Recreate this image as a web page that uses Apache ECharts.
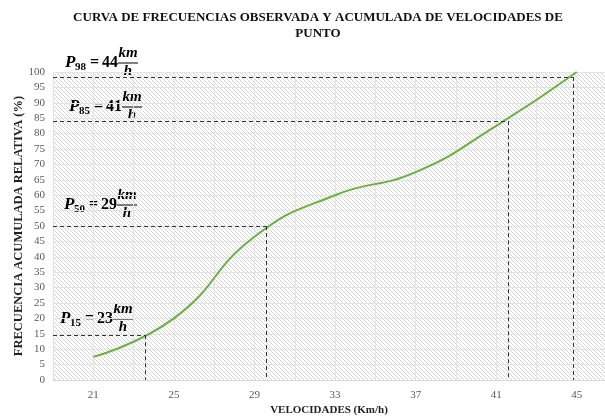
<!DOCTYPE html>
<html>
<head>
<meta charset="utf-8">
<script src="https://cdn.jsdelivr.net/npm/echarts@6/dist/echarts.min.js"></script>
<style>
  html, body { margin: 0; padding: 0; background: #fff; }
  #main { width: 605px; height: 419px; }
</style>
</head>
<body>
<div id="main"></div>
<script>
// curva acumulada (velocidad km/h, % acumulado)
const velocidades = [21, 25, 29, 33, 37, 41, 45];
const acumulado = [7.5, 20, 46.5, 60, 67.5, 82.5, 100];

// percentiles
const percentiles = ["15", "50", "85", "98"];
const pValor = [23, 29, 41, 44];
const pX = [23.6, 29.6, 41.6, 44.8];
const pY = [14.5, 50, 84, 98.4];

const SERIF = '"Liberation Serif", "Times New Roman", serif';

// fondo rayado del area de trazado
function hatch() {
  const c = document.createElement("canvas");
  c.width = 4;
  c.height = 4;
  const ctx = c.getContext("2d");
  ctx.fillStyle = "#ffffff";
  ctx.fillRect(0, 0, 4, 4);
  ctx.strokeStyle = "#d6d6d6";
  ctx.lineWidth = 1;
  ctx.beginPath();
  ctx.moveTo(-1, -1);
  ctx.lineTo(5, 5);
  ctx.moveTo(3, -1);
  ctx.lineTo(5, 1);
  ctx.moveTo(-1, 3);
  ctx.lineTo(1, 5);
  ctx.stroke();
  return c;
}

// etiqueta P_xx = nn km/h
function pLabel(sub, val, x, y) {
  const bold = "bold 16px " + SERIF;
  const boldIt = "italic bold 17px " + SERIF;
  const frac = "italic bold 15px " + SERIF;
  const fx = 63;
  return {
    type: "group",
    x: x,
    y: y,
    children: [
      { type: "text", x: 0, y: 0, style: { text: "P", font: boldIt, fill: "#000", verticalAlign: "middle" } },
      { type: "text", x: 10, y: 4, style: { text: sub, font: "bold 11px " + SERIF, fill: "#000", verticalAlign: "middle" } },
      { type: "text", x: 25, y: 0, style: { text: "=", font: bold, fill: "#000", verticalAlign: "middle" } },
      { type: "text", x: 37, y: 0, style: { text: String(val), font: bold, fill: "#000", verticalAlign: "middle" } },
      { type: "text", x: fx, y: -10, style: { text: "km", font: frac, fill: "#000", align: "center", verticalAlign: "middle" } },
      { type: "line", shape: { x1: fx - 10, y1: 0, x2: fx + 10, y2: 0 }, style: { stroke: "#000", lineWidth: 1 } },
      { type: "text", x: fx, y: 8, style: { text: "h", font: frac, fill: "#000", align: "center", verticalAlign: "middle" } }
    ]
  };
}

const labelPos = [
  [60, 319],
  [64, 205],
  [69, 107],
  [65, 63]
];

const refLines = [];
pX.forEach(function (x, i) {
  refLines.push([{ coord: [19, pY[i]] }, { coord: [x, pY[i]] }]);
  refLines.push([{ coord: [x, pY[i]] }, { coord: [x, 0] }]);
});

const myChart = echarts.init(document.getElementById("main"));

const option = {
  animation: false,
  grid: {
    left: 53,
    right: 0,
    top: 72,
    bottom: 39,
    outerBoundsMode: "none",
    containLabel: false,
    show: true,
    borderWidth: 0,
    backgroundColor: { image: hatch(), repeat: "repeat" }
  },
  xAxis: {
    type: "value",
    min: 19,
    max: 46.4,
    interval: 2,
    name: "VELOCIDADES (Km/h)",
    nameLocation: "middle",
    nameGap: 25,
    nameMoveOverlap: false,
    nameTextStyle: { fontFamily: SERIF, fontWeight: "bold", fontSize: 11, color: "#222" },
    axisLine: { show: true, lineStyle: { color: "#d9d9d9" } },
    axisTick: { show: false },
    axisLabel: {
      fontFamily: SERIF,
      fontSize: 11,
      color: "#595959",
      margin: 10,
      formatter: function (v) {
        return (v - 21) % 4 === 0 ? String(v) : "";
      }
    },
    splitLine: { show: true, lineStyle: { color: "#e3e3e3" } }
  },
  yAxis: {
    type: "value",
    min: 0,
    max: 100,
    interval: 5,
    name: "FRECUENCIA ACUMULADA RELATIVA (%)",
    nameLocation: "middle",
    nameGap: 28,
    nameMoveOverlap: false,
    nameRotate: 90,
    nameTextStyle: { fontFamily: SERIF, fontWeight: "bold", fontSize: 12.5, color: "#222" },
    axisLine: { show: false },
    axisTick: { show: false },
    axisLabel: { fontFamily: SERIF, fontSize: 11, color: "#595959", margin: 8 },
    splitLine: { show: true, lineStyle: { color: "#e3e3e3" } }
  },
  graphic: [
    {
      type: "text",
      x: 318,
      y: 10,
      style: {
        text: "CURVA DE FRECUENCIAS OBSERVADA Y ACUMULADA DE VELOCIDADES DE\nPUNTO",
        font: "bold 13px " + SERIF,
        fill: "#111",
        align: "center",
        lineHeight: 16
      }
    }
  ].concat(percentiles.map(function (s, i) {
    return pLabel(s, pValor[i], labelPos[i][0], labelPos[i][1]);
  })),
  series: [
    {
      type: "line",
      data: velocidades.map(function (v, i) { return [v, acumulado[i]]; }),
      smooth: 0.5,
      showSymbol: false,
      lineStyle: { color: "#70ad47", width: 2 },
      markLine: {
        silent: true,
        symbol: "none",
        label: { show: false },
        lineStyle: { color: "#333333", type: [4, 3], width: 1 },
        data: refLines
      }
    }
  ]
};

option && myChart.setOption(option);
</script>
</body>
</html>
